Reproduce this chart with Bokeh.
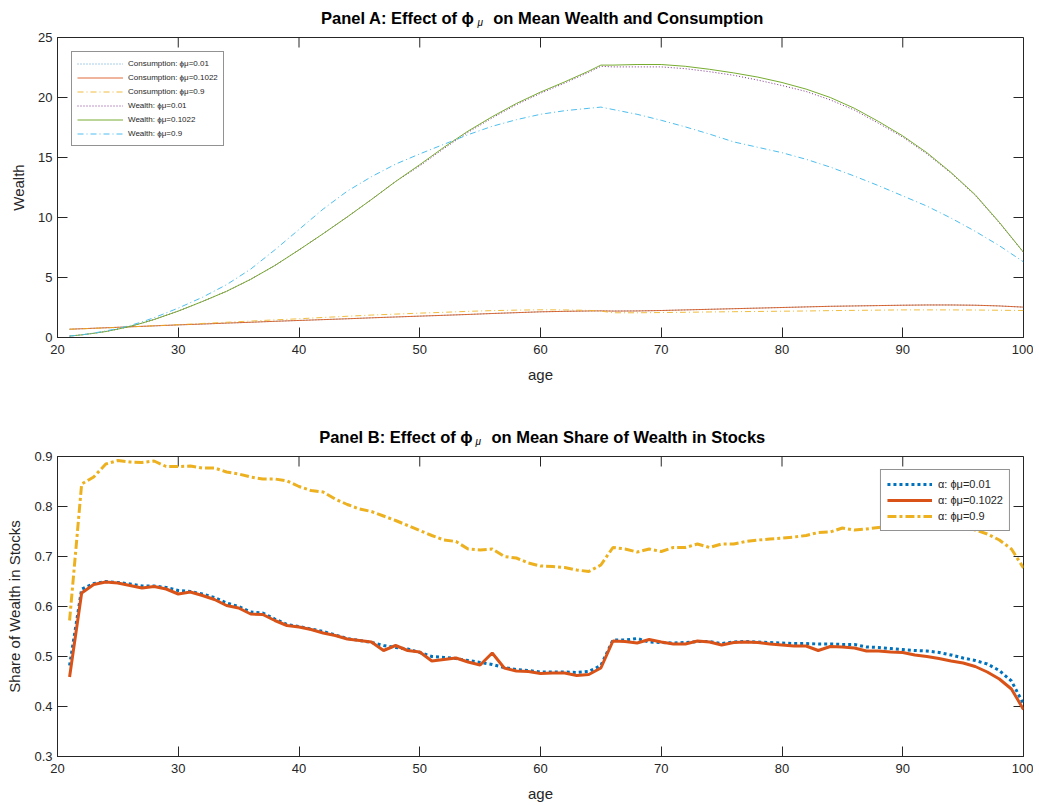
from bokeh.plotting import figure
from bokeh.models import Range1d, Legend, LegendItem, FixedTicker
from bokeh.layouts import column
from bokeh.core.properties import value
from bokeh.embed import file_html
from bokeh.resources import INLINE

FONT = "Liberation Sans"

# ---------------- Panel A data ----------------
ages_a = [21, 22, 23, 24, 25, 26, 27, 28, 30, 32, 34, 36, 38, 40, 42, 44, 46, 48, 50, 52, 54,
          56, 58, 60, 62, 64, 65, 66, 68, 70, 72, 74, 76, 78, 80, 82, 84, 86, 88, 90, 92, 94,
          96, 98, 100]
cons_001 = [0.69, 0.73, 0.77, 0.81, 0.85, 0.89, 0.93, 0.97, 1.05, 1.12, 1.20, 1.27, 1.35, 1.42,
            1.49, 1.56, 1.64, 1.71, 1.78, 1.85, 1.92, 2.00, 2.07, 2.14, 2.18, 2.21, 2.22, 2.21,
            2.22, 2.25, 2.30, 2.35, 2.40, 2.45, 2.50, 2.55, 2.60, 2.63, 2.66, 2.69, 2.71, 2.71,
            2.69, 2.63, 2.53]
cons_01022 = [0.69, 0.73, 0.77, 0.81, 0.85, 0.89, 0.93, 0.97, 1.05, 1.12, 1.20, 1.27, 1.35, 1.42,
              1.49, 1.56, 1.64, 1.71, 1.78, 1.85, 1.92, 2.00, 2.07, 2.14, 2.18, 2.21, 2.22, 2.20,
              2.21, 2.25, 2.30, 2.35, 2.40, 2.45, 2.50, 2.55, 2.60, 2.63, 2.66, 2.69, 2.71, 2.71,
              2.69, 2.63, 2.53]
cons_09 = [0.69, 0.72, 0.76, 0.80, 0.84, 0.88, 0.93, 0.98, 1.07, 1.17, 1.27, 1.37, 1.47, 1.56,
           1.67, 1.77, 1.87, 1.95, 2.03, 2.10, 2.18, 2.24, 2.28, 2.31, 2.30, 2.26, 2.20, 2.06,
           2.06, 2.08, 2.10, 2.13, 2.15, 2.17, 2.19, 2.21, 2.24, 2.26, 2.28, 2.30, 2.30, 2.30,
           2.29, 2.27, 2.25]
wealth_001 = [0.12, 0.22, 0.35, 0.50, 0.70, 0.92, 1.20, 1.50, 2.20, 3.00, 3.85, 4.85, 6.00, 7.30,
              8.65, 10.05, 11.5, 13.0, 14.3, 15.75, 17.1, 18.3, 19.4, 20.35, 21.2, 22.1, 22.6,
              22.55, 22.55, 22.55, 22.4, 22.15, 21.85, 21.45, 21.0, 20.5, 19.8, 18.95, 17.85,
              16.7, 15.3, 13.7, 11.85, 9.55, 7.1]
wealth_01022 = [0.12, 0.22, 0.35, 0.50, 0.70, 0.92, 1.20, 1.50, 2.20, 3.00, 3.85, 4.85, 6.00, 7.30,
                8.65, 10.05, 11.5, 13.0, 14.4, 15.85, 17.2, 18.4, 19.5, 20.45, 21.3, 22.2, 22.7,
                22.7, 22.75, 22.75, 22.6, 22.35, 22.05, 21.7, 21.25, 20.7, 20.0, 19.1, 18.0,
                16.8, 15.4, 13.75, 11.9, 9.6, 7.1]
wealth_09 = [0.12, 0.22, 0.37, 0.55, 0.75, 1.00, 1.30, 1.65, 2.45, 3.35, 4.40, 5.70, 7.30, 9.00,
             10.7, 12.2, 13.4, 14.45, 15.3, 16.1, 16.9, 17.6, 18.15, 18.6, 18.9, 19.1, 19.2,
             19.0, 18.6, 18.1, 17.55, 16.95, 16.3, 15.85, 15.4, 14.85, 14.2, 13.45, 12.65,
             11.8, 10.95, 9.95, 8.85, 7.65, 6.3]

# ---------------- Panel B data ----------------
ages_b = list(range(21, 101))
alpha_001 = [0.482, 0.635, 0.646, 0.650, 0.648, 0.645, 0.641, 0.641, 0.638, 0.632,
             0.630, 0.625, 0.618, 0.607, 0.600, 0.589, 0.587, 0.575, 0.564, 0.560,
             0.555, 0.550, 0.543, 0.536, 0.532, 0.528, 0.522, 0.518, 0.515, 0.508,
             0.500, 0.498, 0.496, 0.492, 0.488, 0.484, 0.478, 0.474, 0.472, 0.469,
             0.469, 0.469, 0.468, 0.470, 0.482, 0.533, 0.533, 0.536, 0.529, 0.528,
             0.527, 0.528, 0.530, 0.530, 0.526, 0.529, 0.530, 0.529, 0.528, 0.527,
             0.526, 0.526, 0.525, 0.525, 0.524, 0.524, 0.519, 0.518, 0.516, 0.514,
             0.512, 0.511, 0.508, 0.503, 0.497, 0.492, 0.485, 0.472, 0.451, 0.405]
alpha_01022 = [0.459, 0.627, 0.644, 0.649, 0.647, 0.642, 0.637, 0.640, 0.635, 0.625,
               0.629, 0.622, 0.614, 0.602, 0.597, 0.585, 0.584, 0.572, 0.562, 0.559,
               0.554, 0.547, 0.542, 0.535, 0.532, 0.529, 0.512, 0.522, 0.512, 0.509,
               0.491, 0.494, 0.497, 0.489, 0.483, 0.507, 0.477, 0.471, 0.470, 0.466,
               0.467, 0.467, 0.462, 0.464, 0.477, 0.531, 0.530, 0.527, 0.534, 0.529,
               0.525, 0.525, 0.531, 0.529, 0.523, 0.528, 0.529, 0.528, 0.525, 0.523,
               0.521, 0.521, 0.512, 0.520, 0.519, 0.517, 0.511, 0.511, 0.509, 0.508,
               0.503, 0.500, 0.496, 0.491, 0.487, 0.480, 0.469, 0.455, 0.435, 0.394]
alpha_09 = [0.572, 0.845, 0.859, 0.885, 0.892, 0.889, 0.888, 0.891, 0.880, 0.880,
            0.881, 0.877, 0.877, 0.869, 0.865, 0.859, 0.855, 0.855, 0.851, 0.840,
            0.832, 0.829, 0.815, 0.804, 0.795, 0.790, 0.781, 0.772, 0.762, 0.752,
            0.742, 0.733, 0.730, 0.715, 0.713, 0.715, 0.700, 0.697, 0.687, 0.681,
            0.680, 0.678, 0.673, 0.670, 0.683, 0.718, 0.715, 0.709, 0.715, 0.710,
            0.718, 0.718, 0.725, 0.718, 0.725, 0.725, 0.730, 0.733, 0.735, 0.737,
            0.739, 0.742, 0.748, 0.749, 0.757, 0.753, 0.755, 0.758, 0.761, 0.762,
            0.764, 0.765, 0.765, 0.764, 0.760, 0.753, 0.745, 0.733, 0.715, 0.677]

x_ticks = [20, 30, 40, 50, 60, 70, 80, 90, 100]
ya_ticks = [0, 5, 10, 15, 20, 25]
yb_ticks = [0.3, 0.4, 0.5, 0.6, 0.7, 0.8, 0.9]

BLUE, ORANGE, YELLOW = "#0072BD", "#D95319", "#EDB120"
PURPLE, GREEN, LBLUE = "#7E2F8E", "#77AC30", "#4DBEEE"
AX = "#262626"

W = 1033          # figure width (frame 57..1023)
FRAME_W = 966
FRAME_H = 300
TICK = 10         # inward tick length in px


def title_fig(height, base, first, rest, right_edge, gap):
    t = figure(width=W, height=height, x_range=Range1d(0, W), y_range=Range1d(0, height),
               output_backend="svg", toolbar_location=None,
               x_axis_location=None, y_axis_location=None,
               min_border_left=0, min_border_right=0, min_border_top=0, min_border_bottom=0)
    t.outline_line_color = None
    t.grid.visible = False
    t.text(x=[right_edge], y=[base], text=[first], text_align="right",
           text_baseline="alphabetic", text_font=value(FONT), text_font_size="16.5px",
           text_font_style="bold", text_color="black")
    t.text(x=[right_edge + 3], y=[base - 4.5], text=["μ"], text_align="left",
           text_baseline="alphabetic", text_font=value(FONT), text_font_size="10px",
           text_font_style="italic", text_color="black")
    t.text(x=[right_edge + gap], y=[base], text=[rest], text_align="left",
           text_baseline="alphabetic", text_font=value(FONT), text_font_size="16.5px",
           text_font_style="bold", text_color="black")
    return t


def make_fig(height, top, bottom, yr, yticks, ylabel):
    p = figure(width=W, height=height, x_range=Range1d(20, 100), y_range=Range1d(*yr),
               output_backend="svg", toolbar_location=None,
               min_border_left=57, min_border_right=W - 57 - FRAME_W, min_border_top=top,
               min_border_bottom=bottom)
    p.outline_line_color = AX
    p.outline_line_width = 1
    p.grid.visible = False
    p.xaxis.ticker = FixedTicker(ticks=x_ticks)
    p.yaxis.ticker = FixedTicker(ticks=yticks)
    for ax in p.xaxis + p.yaxis:
        ax.axis_line_color = AX
        ax.major_tick_line_color = AX
        ax.major_tick_in = TICK
        ax.major_tick_out = 0
        ax.minor_tick_line_color = None
        ax.major_label_text_font = FONT
        ax.major_label_text_font_size = "13px"
        ax.major_label_text_color = AX
        ax.axis_label_text_font = FONT
        ax.axis_label_text_font_size = "15px"
        ax.axis_label_text_font_style = "normal"
        ax.axis_label_text_color = AX
        ax.major_label_standoff = 5
    p.xaxis.major_label_standoff = 7
    p.xaxis.axis_label = "age"
    p.xaxis.axis_label_standoff = 9
    p.yaxis.axis_label = ylabel
    p.yaxis.axis_label_standoff = 8
    # mirrored inward ticks on top and right edges (box axes)
    y0, y1 = yr
    dy = TICK * (y1 - y0) / FRAME_H
    dx = TICK * 80 / FRAME_W
    p.segment(x0=x_ticks, y0=[y1] * len(x_ticks), x1=x_ticks, y1=[y1 - dy] * len(x_ticks),
              line_color=AX, line_width=1)
    p.segment(x0=[100] * len(yticks), y0=yticks, x1=[100 - dx] * len(yticks), y1=yticks,
              line_color=AX, line_width=1)
    return p


# ---------------- Panel A ----------------
ta = title_fig(29, 12, "Panel A: Effect of ϕ", "on Mean Wealth and Consumption", 446, 20)
pa = make_fig(379, 8, 71, (0, 25), ya_ticks, "Wealth")
r1 = pa.line(ages_a, cons_001, line_color=BLUE, line_width=1, line_dash="1 2", line_alpha=0.7)
r2 = pa.line(ages_a, cons_01022, line_color=ORANGE, line_width=1, line_alpha=0.85)
r3 = pa.line(ages_a, cons_09, line_color=YELLOW, line_width=1, line_dash="6 3 1 3", line_alpha=0.85)
r4 = pa.line(ages_a, wealth_001, line_color=PURPLE, line_width=1, line_dash="1 2")
r5 = pa.line(ages_a, wealth_01022, line_color=GREEN, line_width=1)
r6 = pa.line(ages_a, wealth_09, line_color=LBLUE, line_width=1, line_dash="6 3 1 3")
leg_a = Legend(items=[
    LegendItem(label="Consumption: ϕμ=0.01", renderers=[r1]),
    LegendItem(label="Consumption: ϕμ=0.1022", renderers=[r2]),
    LegendItem(label="Consumption: ϕμ=0.9", renderers=[r3]),
    LegendItem(label="Wealth: ϕμ=0.01", renderers=[r4]),
    LegendItem(label="Wealth: ϕμ=0.1022", renderers=[r5]),
    LegendItem(label="Wealth: ϕμ=0.9", renderers=[r6]),
], location="top_left", margin=14, padding=5, spacing=1, label_height=13, glyph_height=13,
    glyph_width=46, label_standoff=5, label_text_font=FONT, label_text_font_size="8px",
    label_text_color=AX, border_line_color=AX, border_line_width=1,
    background_fill_color="white", background_fill_alpha=1)
pa.add_layout(leg_a, "center")

# ---------------- Panel B ----------------
tb = title_fig(40, 12, "Panel B: Effect of ϕ", "on Mean Share of Wealth in Stocks", 444, 20)
pb = make_fig(356, 8, 48, (0.3, 0.9), yb_ticks, "Share of Wealth in Stocks")
s1 = pb.line(ages_b, alpha_001, line_color=BLUE, line_width=3, line_dash="3 3")
s2 = pb.line(ages_b, alpha_01022, line_color=ORANGE, line_width=3)
s3 = pb.line(ages_b, alpha_09, line_color=YELLOW, line_width=3, line_dash="9 3 3 3")
leg_b = Legend(items=[
    LegendItem(label="α: ϕμ=0.01", renderers=[s1]),
    LegendItem(label="α: ϕμ=0.1022", renderers=[s2]),
    LegendItem(label="α: ϕμ=0.9", renderers=[s3]),
], location="top_right", margin=13, padding=6, spacing=0, label_height=16, glyph_height=16,
    glyph_width=45, label_standoff=6, label_text_font=FONT, label_text_font_size="11px",
    label_text_color=AX, border_line_color=AX, border_line_width=1,
    background_fill_color="white", background_fill_alpha=1)
pb.add_layout(leg_b, "center")

layout = column(ta, pa, tb, pb, spacing=0)
open("out.html", "w").write(file_html(layout, INLINE))
